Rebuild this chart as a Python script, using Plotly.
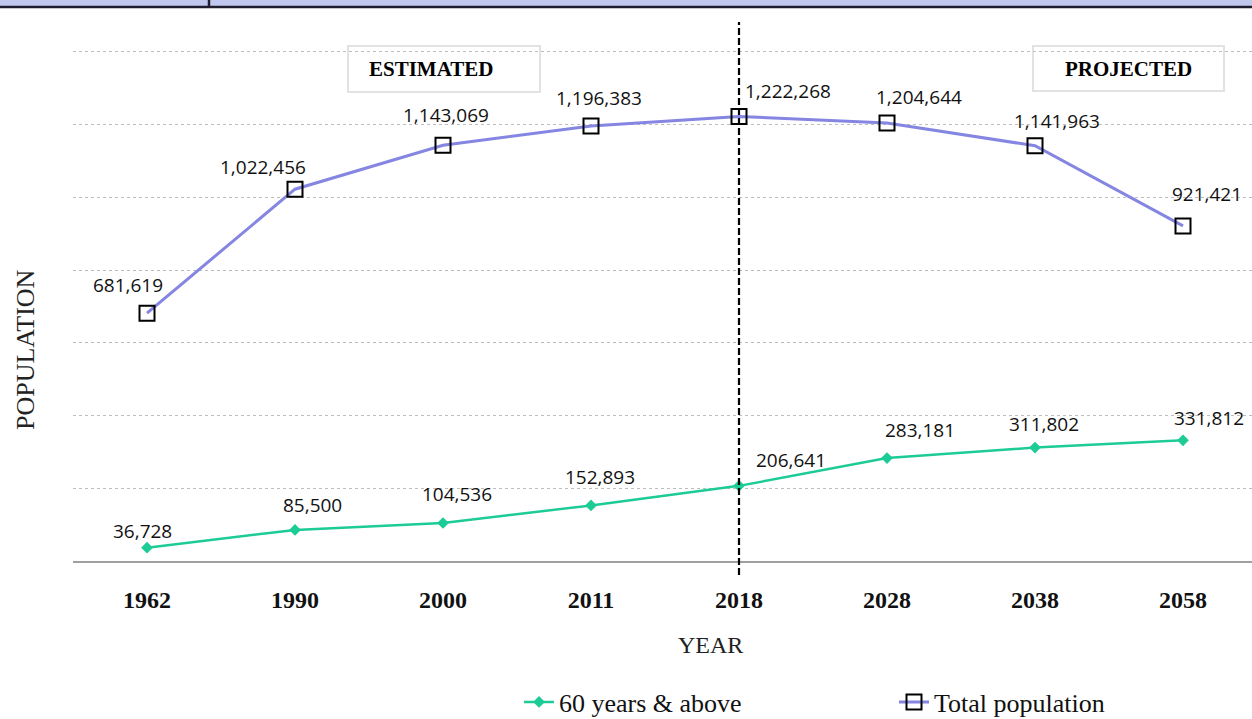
import plotly.graph_objects as go

# ---------------- data ----------------
years = ["1962", "1990", "2000", "2011", "2018", "2028", "2038", "2058"]
total_population = [681619, 1022456, 1143069, 1196383, 1222268, 1204644, 1141963, 921421]
age_60_plus = [36728, 85500, 104536, 152893, 206641, 283181, 311802, 331812]
series_names = ["60 years & above", "Total population"]
period_labels = ["ESTIMATED", "PROJECTED"]
y_axis_title = "POPULATION"
x_axis_title = "YEAR"
split_year = "2018"

# ---------------- layout constants ----------------
W, H = 1252, 719
ML, MR, MT, MB = 73, 0, 48, 158
PW = W - ML - MR
PH = H - MT - MB
CAT_PX = 148.0
Y_PER_PX = 2750.0
x_range = [-0.5, -0.5 + PW / CAT_PX]
y_range = [0, PH * Y_PER_PX]


def px_x(p):
    return (p - ML) / PW


def px_y(p):
    return (H - MB - p) / PH


GREEN = "#1CCB95"
PURPLE = "#8585E2"
SERIF = "Liberation Serif"
SANS = "Open Sans"

xs = list(range(len(years)))

fig = go.Figure()
fig.add_trace(go.Scatter(
    x=xs, y=age_60_plus, name=series_names[0], mode="lines+markers",
    line=dict(color=GREEN, width=2.5),
    marker=dict(symbol="diamond", size=9, color=GREEN),
    hoverinfo="skip",
))
fig.add_trace(go.Scatter(
    x=xs, y=total_population, name=series_names[1], mode="lines+markers",
    line=dict(color=PURPLE, width=3),
    marker=dict(symbol="square-open", size=15, color="#000000", line=dict(width=2, color="#000000")),
    hoverinfo="skip",
))

# data labels (pixel offsets from marker centre)
tot_off = [(-19, -28), (-32, -22), (3, -30), (8, -28), (49, -26), (32, -26), (22, -25), (24, -32)]
old_off = [(-5, -17), (17, -25), (14, -29), (9, -28), (52, -26), (33, -28), (9, -24), (26, -22)]
annotations = []
for vals, offs in ((total_population, tot_off), (age_60_plus, old_off)):
    for i, v in enumerate(vals):
        dx, dy = offs[i]
        annotations.append(dict(
            x=xs[i], y=v, xref="x", yref="y", text=f"{v:,}", showarrow=False,
            xanchor="center", yanchor="middle", xshift=dx, yshift=-dy,
            font=dict(family=SANS, size=19, color="#111111"),
        ))

# period boxes + labels
boxes = [(348, 46, 540, 92), (1033, 46, 1224, 91)]
text_pos = [(431, 69), (1128, 69)]
shapes = []
for (x0, y0, x1, y1), lab, (tx, ty) in zip(boxes, period_labels, text_pos):
    shapes.append(dict(type="rect", xref="paper", yref="paper",
                       x0=px_x(x0), x1=px_x(x1), y0=px_y(y1), y1=px_y(y0),
                       line=dict(color="#E2E2E2", width=2), fillcolor="white", layer="below"))
    annotations.append(dict(x=px_x(tx), y=px_y(ty), xref="paper", yref="paper", text=f"<b>{lab}</b>",
                            showarrow=False, xanchor="center", yanchor="middle",
                            font=dict(family=SERIF, size=21, color="#000000")))

# dashed split line
split_idx = years.index(split_year)
shapes.append(dict(type="line", xref="x", yref="paper", x0=split_idx, x1=split_idx,
                   y0=px_y(575), y1=px_y(22), line=dict(color="#000000", width=2.2, dash="7px,3px")))

# cropped header band at the very top
shapes.append(dict(type="rect", xref="paper", yref="paper", x0=px_x(0), x1=px_x(W),
                   y0=px_y(7), y1=px_y(0), fillcolor="#C0C8EE", line=dict(width=0)))
shapes.append(dict(type="line", xref="paper", yref="paper", x0=px_x(0), x1=px_x(W),
                   y0=px_y(7), y1=px_y(7), line=dict(color="#1E1E2E", width=2.5)))
shapes.append(dict(type="line", xref="paper", yref="paper", x0=px_x(209), x1=px_x(209),
                   y0=px_y(7), y1=px_y(0), line=dict(color="#1E1E2E", width=2.5)))

# axis titles
annotations.append(dict(x=px_x(711), y=px_y(645), xref="paper", yref="paper", text=x_axis_title,
                        showarrow=False, xanchor="center", yanchor="middle",
                        font=dict(family=SERIF, size=24, color="#222222")))
annotations.append(dict(x=px_x(25), y=px_y(349), xref="paper", yref="paper", text=y_axis_title,
                        showarrow=False, xanchor="center", yanchor="middle", textangle=-90,
                        font=dict(family=SERIF, size=26, color="#222222")))

fig.update_layout(
    width=W, height=H,
    margin=dict(l=ML, r=MR, t=MT, b=MB, pad=0, autoexpand=False),
    paper_bgcolor="white", plot_bgcolor="white",
    showlegend=True,
    legend=dict(orientation="h", x=px_x(519), y=px_y(702), xanchor="left", yanchor="middle",
                entrywidth=330, font=dict(family=SERIF, size=26, color="#111111"),
                bgcolor="rgba(0,0,0,0)"),
    shapes=shapes,
    annotations=annotations,
    xaxis=dict(range=x_range, tickmode="array", tickvals=xs, ticktext=[f"<b>{y}</b>" for y in years],
               showgrid=False, zeroline=False, showline=True, linecolor="#A0A0A0", linewidth=2,
               ticks="", ticklabelstandoff=16, automargin=False,
               tickfont=dict(family=SERIF, size=24, color="#111111")),
    yaxis=dict(range=y_range, tickmode="array", tickvals=[200000 * k for k in range(1, 8)],
               showticklabels=False, showgrid=True, gridcolor="#BDBDBD", gridwidth=1, griddash="dot",
               zeroline=False, showline=False, ticks="", automargin=False),
)

fig.write_html(
    "out.html",
    config={"displayModeBar": False},
    post_script="document.body.style.margin='0';document.body.style.overflow='hidden';"
                "document.documentElement.style.overflow='hidden';",
)
